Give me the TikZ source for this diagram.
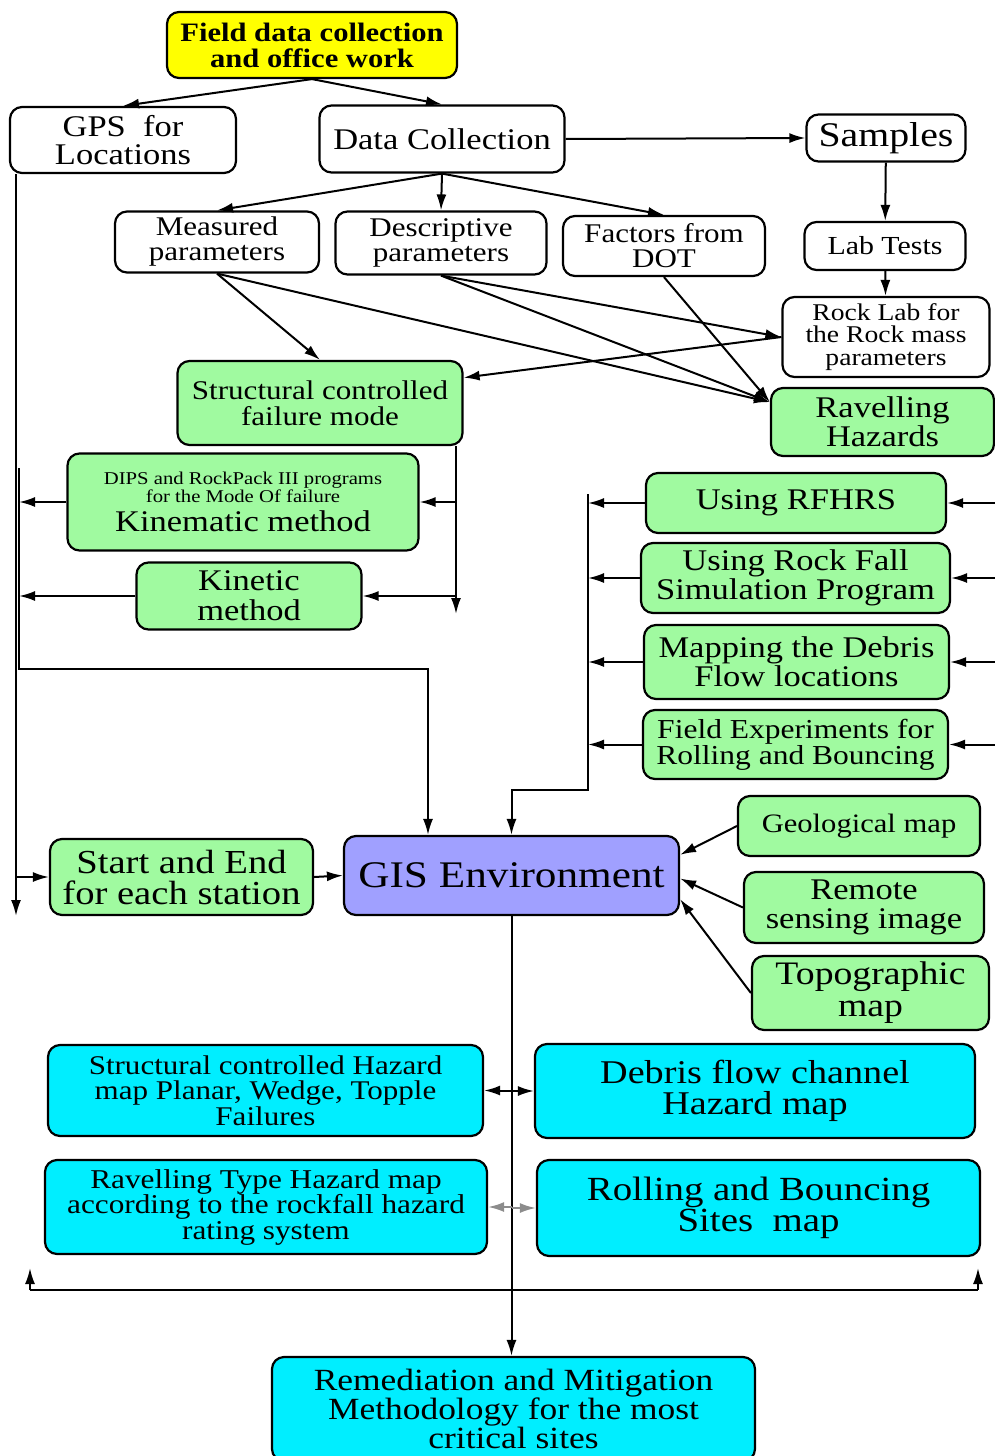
\documentclass[tikz,border=0pt]{standalone}
\usepackage{fontspec}
\setmainfont{Liberation Serif}[FakeStretch=1.15]
\usepackage{tikz}
\usetikzlibrary{arrows.meta, positioning, calc}

\definecolor{boxyellow}{RGB}{255,255,0}
\definecolor{boxgreen}{RGB}{160,250,160}
\definecolor{boxblue}{RGB}{160,160,255}
\definecolor{boxcyan}{RGB}{0,238,255}

\begin{document}
\begin{tikzpicture}[x=0.5pt, y=-0.5pt,
  box/.style={draw, rounded corners=6pt, line width=1.1pt, align=center, inner sep=0pt, fill=white},
  ybox/.style={box, fill=boxyellow},
  gbox/.style={box, fill=boxgreen},
  bbox/.style={box, fill=boxblue},
  cbox/.style={box, fill=boxcyan},
  sz/.style 2 args={minimum width=#1*0.5pt, minimum height=#2*0.5pt},
  arr/.style={-{Latex[length=8pt,width=5pt]}, line width=1pt},
  thin arr/.style={arr, draw=black!45}]

\useasboundingbox (0,0) rectangle (995,1456);

% top part
\node[ybox, sz={290}{66}, font=\fontsize{13.3}{13}\selectfont\bfseries] (field) at (312,45) {Field data collection\\and office work};
\node[box, sz={226}{66}, font=\fontsize{15}{14}\selectfont] (gps) at (123,140) {GPS\ \ for\\Locations};
\node[box, sz={245}{67}, font=\fontsize{15}{14}\selectfont] (datac) at (442,139) {Data Collection};
\node[box, sz={159}{47}, font=\fontsize{17.3}{16}\selectfont] (samples) at (886,138) {Samples};

\node[box, sz={204}{61}, font=\fontsize{13.5}{12.5}\selectfont] (measured) at (217,242) {Measured\\parameters};
\node[box, sz={211}{63}, font=\fontsize{13.5}{12.5}\selectfont] (descr) at (441,243) {Descriptive\\parameters};
\node[box, sz={202}{60}, font=\fontsize{13.5}{12.5}\selectfont] (factors) at (664,246) {Factors from\\DOT};
\node[box, sz={161}{48}, font=\fontsize{13}{12}\selectfont] (labtests) at (885,246) {Lab Tests};
\node[box, sz={207}{80}, font=\fontsize{12}{11.25}\selectfont] (rocklab) at (886,337) {Rock Lab for\\the Rock mass\\parameters};

\node[gbox, sz={223}{68}, font=\fontsize{15}{14.5}\selectfont] (ravel) at (882.5,422) {Ravelling\\Hazards};
\node[gbox, sz={285}{84}, font=\fontsize{13.5}{13}\selectfont] (structural) at (320,403) {Structural controlled\\failure mode};
\node[gbox, sz={351}{97}, font=\fontsize{9}{8}\selectfont] (kinematic) at (243,502) {DIPS and RockPack III programs\\for the Mode Of failure\\[3pt]{\fontsize{15}{14}\selectfont Kinematic method}};
\node[gbox, sz={225}{67}, font=\fontsize{15}{15}\selectfont] (kinetic) at (249,596) {Kinetic\\method};

% methods on the right
\node[gbox, sz={300}{60}, font=\fontsize{15}{14.5}\selectfont] (rfhrs) at (796,503) {Using RFHRS};
\node[gbox, sz={309}{70}, font=\fontsize{15}{14.5}\selectfont] (rockfall) at (795.5,578) {Using Rock Fall\\Simulation Program};
\node[gbox, sz={305}{74}, font=\fontsize{15}{14.5}\selectfont] (mapping) at (796.5,662) {Mapping the Debris\\Flow locations};
\node[gbox, sz={305}{69}, font=\fontsize{13.7}{13}\selectfont] (fieldexp) at (795.5,744.5) {Field Experiments for\\Rolling and Bouncing};

% GIS and inputs
\node[gbox, sz={242}{60}, font=\fontsize{13.3}{13}\selectfont] (geo) at (859,826) {Geological map};
\node[gbox, sz={240}{71}, font=\fontsize{15}{14.5}\selectfont] (remote) at (864,907.5) {Remote\\sensing image};
\node[gbox, sz={237}{74}, font=\fontsize{16.4}{16}\selectfont] (topo) at (870.5,993) {Topographic\\map};
\node[gbox, sz={263}{76}, font=\fontsize{16.8}{15.5}\selectfont] (startend) at (181.5,877) {Start and End\\for each station};
\node[bbox, sz={335}{79}, font=\fontsize{18.8}{18}\selectfont] (gis) at (511.5,875.5) {GIS Environment};

% hazard maps
\node[cbox, sz={435}{91}, font=\fontsize{13.5}{12.75}\selectfont] (schaz) at (265.5,1090.5) {Structural controlled Hazard\\map Planar, Wedge, Topple\\Failures};
\node[cbox, sz={440}{94}, font=\fontsize{16.6}{15.5}\selectfont] (debris) at (755,1091) {Debris flow channel\\Hazard map};
\node[cbox, sz={442}{94}, font=\fontsize{13.6}{12.75}\selectfont] (ravhaz) at (266,1207) {Ravelling Type Hazard map\\according to the rockfall hazard\\rating system};
\node[cbox, sz={443}{96}, font=\fontsize{16.9}{15.5}\selectfont] (rolling) at (758.5,1208) {Rolling and Bouncing\\Sites\ \ map};
\node[cbox, sz={483}{104}, font=\fontsize{15.4}{14.5}\selectfont] (remed) at (513.5,1409) {Remediation and Mitigation\\Methodology for the most\\critical sites};

% helper points
\coordinate (sfoot) at (456,614);
\coordinate (gfoot) at (16,916);
\coordinate (ltop) at (19,468);
\coordinate (lcorner) at (428,669);
\coordinate (rtop) at (588,494);
\coordinate (rcorner) at (588,790);
\coordinate (redge) at (995,500);
\coordinate (bleft) at (30,1290);
\coordinate (bright) at (978,1290);
\coordinate (blefttip) at (30,1268);
\coordinate (brighttip) at (978,1268);

% connectors
\draw[arr] (field.south) -- (gps.north);
\draw[arr] (field.south) -- (datac.north);
\draw[arr] (datac.east) -- (samples.west);
\draw[arr] (datac.south) -- (measured.north);
\draw[arr] (datac.south) -- (descr.north);
\draw[arr] (datac.south) -- (factors.north);
\draw[arr] (samples) -- (labtests);
\draw[arr] (labtests) -- (rocklab);

\draw[arr] (measured.south) -- (structural.north);
\draw[arr] (measured.south) -- (ravel.170);
\draw[arr] (descr.south) -- (rocklab.west);
\draw[arr] (descr.south) -- (ravel.170);
\draw[arr] (factors.south) -- (ravel.170);
\draw[arr] (rocklab.west) -- (structural.10);

\draw[arr] (sfoot |- structural.south) -- (sfoot);
\draw[arr] (sfoot |- kinematic.east) -- (kinematic.east);
\draw[arr] (sfoot |- kinetic.east) -- (kinetic.east);

\draw[arr] (gfoot |- gps.south) -- (gfoot);
\draw[arr] (gfoot |- startend.west) -- (startend.west);
\draw[arr] (kinematic.west) -- (ltop |- kinematic.west);
\draw[arr] (kinetic.west) -- (ltop |- kinetic.west);
\draw[arr] (ltop) |- (lcorner) -- (lcorner |- gis.north);
\draw[arr] (startend.east) -- (gis.west);

\foreach \m in {rfhrs, rockfall, mapping, fieldexp} {
  \draw[arr] (\m.west) -- (rtop |- \m.west);
  \draw[arr] (redge |- \m.east) -- (\m.east);
}
\draw[arr] (rtop) -- (rcorner) -| (gis.north);

\draw[arr] (geo.west) -- (gis.7);
\draw[arr] (remote.west) -- (gis.-1);
\draw[arr] (topo.west) -- (gis.-8);

\draw[arr] (gis.south) -- (gis.south |- remed.north);
\draw[arr] (gis.south |- schaz.east) -- (schaz.east);
\draw[arr] (gis.south |- debris.west) -- (debris.west);
\draw[thin arr] (gis.south |- ravhaz.east) -- (ravhaz.east);
\draw[thin arr] (gis.south |- rolling.west) -- (rolling.west);

\draw[line width=1pt] (bleft) -- (bright);
\draw[arr] (bleft) -- (blefttip);
\draw[arr] (bright) -- (brighttip);
\end{tikzpicture}
\end{document}
